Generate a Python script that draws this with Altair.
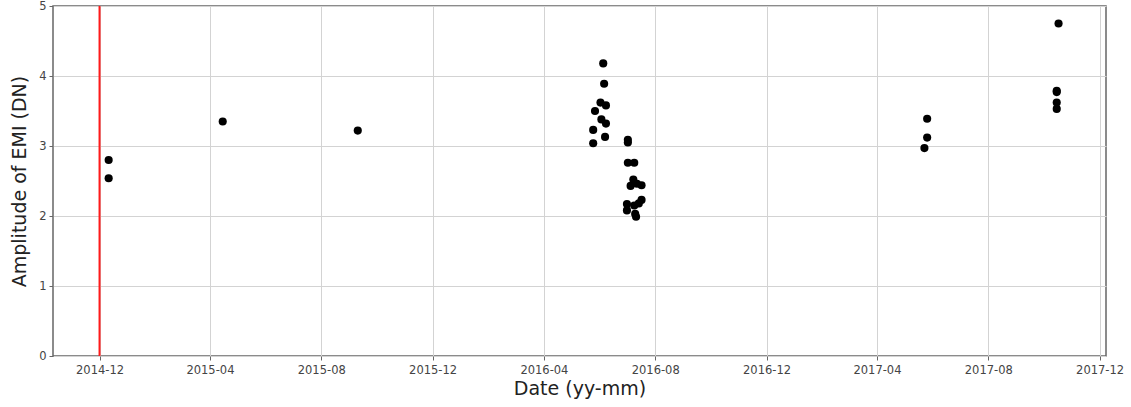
import altair as alt
import pandas as pd

# ---- data ----
dates = [
    "2014-12-11", "2014-12-11",
    "2015-04-15",
    "2015-09-10",
    "2016-06-05", "2016-06-06", "2016-06-02", "2016-06-08", "2016-05-27",
    "2016-06-03", "2016-06-08", "2016-05-25", "2016-06-07", "2016-05-25",
    "2016-07-02", "2016-07-02", "2016-07-02", "2016-07-09", "2016-07-08",
    "2016-07-05", "2016-07-12", "2016-07-17", "2016-07-17", "2016-07-14",
    "2016-07-09", "2016-07-01", "2016-07-01", "2016-07-11", "2016-07-10",
    "2017-05-26", "2017-05-26", "2017-05-23",
    "2017-10-17", "2017-10-15", "2017-10-15", "2017-10-15", "2017-10-15",
]
amplitudes = [
    2.80, 2.54,
    3.35,
    3.22,
    4.18, 3.89, 3.62, 3.58, 3.50,
    3.38, 3.32, 3.23, 3.13, 3.04,
    3.09, 3.05, 2.76, 2.76, 2.52,
    2.43, 2.46, 2.44, 2.23, 2.18,
    2.15, 2.17, 2.08, 1.99, 2.03,
    3.39, 3.12, 2.97,
    4.75, 3.79, 3.77, 3.62, 3.53,
]
event_dates = ["2014-12-01"]
tick_months = [(2014, 12), (2015, 4), (2015, 8), (2015, 12), (2016, 4),
               (2016, 8), (2016, 12), (2017, 4), (2017, 8), (2017, 12)]
y_ticks = [0, 1, 2, 3, 4, 5]

df = pd.DataFrame({"date": [d + "T00:00:00" for d in dates], "amp": amplitudes})
ev = pd.DataFrame({"date": [d + "T00:00:00" for d in event_dates]})

x_scale = alt.Scale(
    domain=[alt.DateTime(year=2014, month=10, date=11),
            alt.DateTime(year=2017, month=12, date=8)],
    nice=False,
)
x_axis = alt.Axis(
    values=[alt.DateTime(year=y, month=m, date=1) for y, m in tick_months],
    format="%Y-%m", title="Date (yy-mm)", labelPadding=4, titlePadding=4,
)
y_axis = alt.Axis(values=y_ticks, title="Amplitude of EMI (DN)",
                  labelPadding=3, titlePadding=9)

points = alt.Chart(df).mark_circle(color="black", opacity=1, size=66).encode(
    x=alt.X("date:T", scale=x_scale, axis=x_axis),
    y=alt.Y("amp:Q", scale=alt.Scale(domain=[0, 5], nice=False), axis=y_axis),
)
rule = alt.Chart(ev).mark_rule(color="#ff1a1a", strokeWidth=2).encode(
    x=alt.X("date:T", scale=x_scale, axis=x_axis)
)

chart = (
    alt.layer(rule, points)
    .properties(
        width=1053, height=350,
        autosize=alt.AutoSizeParams(type="none"),
        padding={"left": 53, "top": 6, "right": 25, "bottom": 51},
        background="white",
    )
    .configure_view(stroke="#666666", strokeWidth=1.5)
    .configure_axis(
        domain=False,
        grid=True, gridColor="#d3d3d3", gridWidth=1,
        tickColor="#666666", tickSize=4, tickWidth=1,
        labelFont="DejaVu Sans", labelFontSize=11.5, labelColor="#444444",
        titleFont="DejaVu Sans", titleFontSize=19, titleFontWeight="normal",
        titleColor="#222222",
    )
)

chart.save("out.html", embed_options={"renderer": "svg", "actions": False})
